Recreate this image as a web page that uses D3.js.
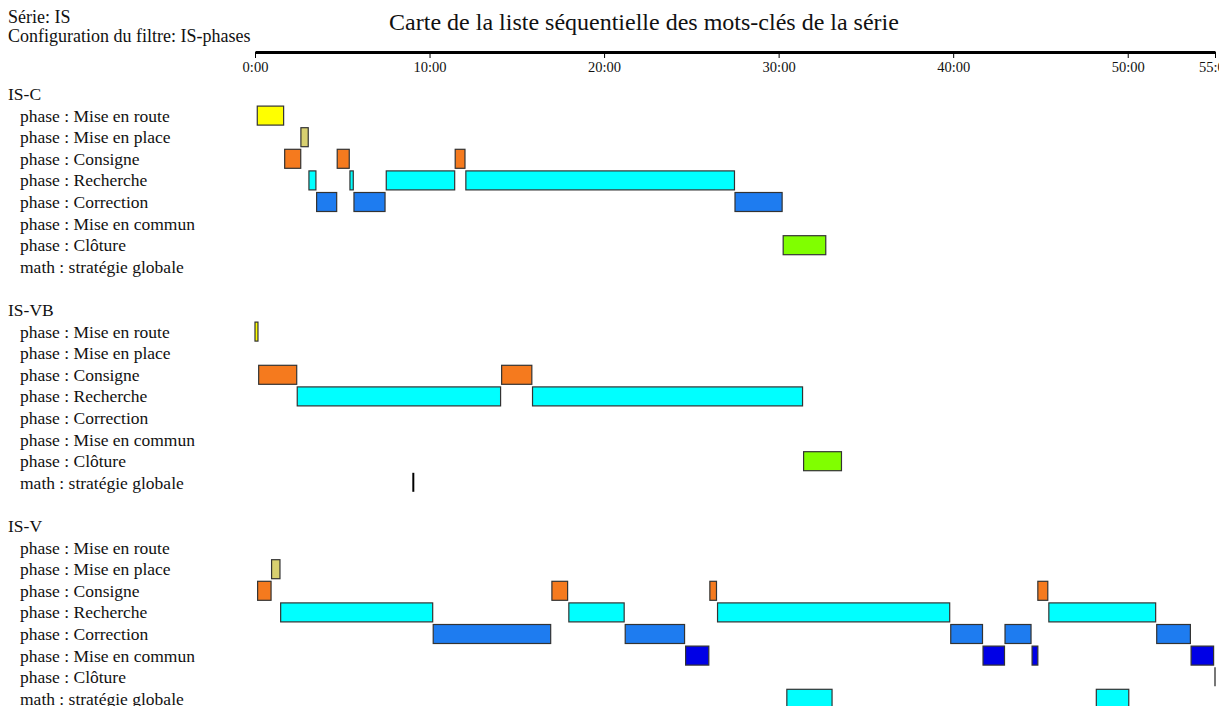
<!DOCTYPE html>
<html>
<head>
<meta charset="utf-8">
<script src="https://cdn.jsdelivr.net/npm/d3@7"></script>
<style>
body { margin:0; background:#fff; }
</style>
</head>
<body>
<div id="chart"></div>
<script>
// groups (sessions) and the keyword rows shown for each
var groups = ["IS-C", "IS-VB", "IS-V"];
var rows = ["phase : Mise en route", "phase : Mise en place", "phase : Consigne", "phase : Recherche",
            "phase : Correction", "phase : Mise en commun", "phase : Clôture", "math : stratégie globale"];
var rowColors = ["#ffff00", "#d8d070", "#f57a1e", "#00ffff", "#1e7cf0", "#0000e6", "#80ff00", "#00ffff"];
var tickValues = [0, 10, 20, 30, 40, 50, 55];

// segments: [row index, start minute, end minute]
var segIS_C = [
  [0, 0.13, 1.64], [1, 2.63, 3.05],
  [2, 1.70, 2.62], [2, 4.71, 5.40], [2, 11.47, 12.03],
  [3, 3.09, 3.49], [3, 5.44, 5.63], [3, 7.52, 11.44], [3, 12.08, 27.47],
  [4, 3.53, 4.68], [4, 5.67, 7.45], [4, 27.50, 30.20],
  [6, 30.26, 32.70]
];
var segIS_VB = [
  [0, 0.0, 0.17],
  [2, 0.21, 2.39], [2, 14.13, 15.86],
  [3, 2.42, 14.07], [3, 15.90, 31.37],
  [6, 31.43, 33.60]
];
var segIS_V = [
  [1, 0.95, 1.43],
  [2, 0.15, 0.92], [2, 17.01, 17.91], [2, 26.06, 26.44], [2, 44.85, 45.42],
  [3, 1.47, 10.18], [3, 17.98, 21.15], [3, 26.50, 39.80], [3, 45.48, 51.60],
  [4, 10.21, 16.94], [4, 21.21, 24.61], [4, 39.86, 41.68], [4, 42.97, 44.46], [4, 51.66, 53.59],
  [5, 24.67, 26.00], [5, 41.71, 42.94], [5, 44.52, 44.85], [5, 53.63, 54.92],
  [7, 30.47, 33.06], [7, 48.20, 50.06]
];
// instant events: [group index, row index, minute, colour]
var instants = [[1, 7, 9.07, "#000"], [2, 6, 55.0, "#777"]];

var segments = [segIS_C, segIS_VB, segIS_V];

var serif = "'Liberation Serif', 'Times New Roman', serif";
var width = 1219, height = 706;
var svg = d3.select("#chart").append("svg")
  .attr("width", width).attr("height", height)
  .attr("font-family", serif)
  .style("overflow", "hidden");

var x = d3.scaleLinear().domain([0, 55]).range([255, 1215]);
// one slot per line: header + 8 rows + blank
var y = d3.scaleLinear().domain([0, 1]).range([94, 94 + 21.6]);
function rowY(g, r) { return y(g * 10 + r + 1); }

function label(xp, yp, size, txt) {
  return svg.append("text").attr("x", xp).attr("y", yp)
    .attr("font-family", serif).attr("font-size", size).attr("fill", "#111").text(txt);
}

// header texts
label(8, 23, 18, "Série: IS");
label(8, 42, 18, "Configuration du filtre: IS-phases");
label(644, 30, 24, "Carte de la liste séquentielle des mots-clés de la série").attr("text-anchor", "middle");

// time axis
var axis = svg.append("g").attr("transform", "translate(0,52)")
  .call(d3.axisBottom(x).tickValues(tickValues).tickSize(6).tickSizeOuter(0)
    .tickFormat(function(d) { return d + ":00"; }));
axis.attr("font-family", serif).attr("font-size", 14.5);
axis.select(".domain").attr("stroke", "#000").attr("stroke-width", 3);
axis.selectAll(".tick line").attr("stroke", "#000");
axis.selectAll(".tick text").attr("y", 10).attr("fill", "#111");

groups.forEach(function(gName, g) {
  label(8, y(g * 10) + 6, 17.5, gName);
  rows.forEach(function(r, i) { label(20, rowY(g, i) + 6, 17.5, r); });

  svg.append("g").selectAll("rect").data(segments[g]).enter().append("rect")
    .attr("x", function(d) { return x(d[1]); })
    .attr("y", function(d) { return rowY(g, d[0]) - 9.5; })
    .attr("width", function(d) { return Math.max(x(d[2]) - x(d[1]), 2); })
    .attr("height", 19)
    .attr("fill", function(d) { return rowColors[d[0]]; })
    .attr("stroke", "#333").attr("stroke-width", 1.2);
});

svg.append("g").selectAll("line").data(instants).enter().append("line")
  .attr("x1", function(d) { return x(d[2]); }).attr("x2", function(d) { return x(d[2]); })
  .attr("y1", function(d) { return rowY(d[0], d[1]) - 10; })
  .attr("y2", function(d) { return rowY(d[0], d[1]) + 9; })
  .attr("stroke", function(d) { return d[3]; }).attr("stroke-width", 2);
</script>
</body>
</html>
